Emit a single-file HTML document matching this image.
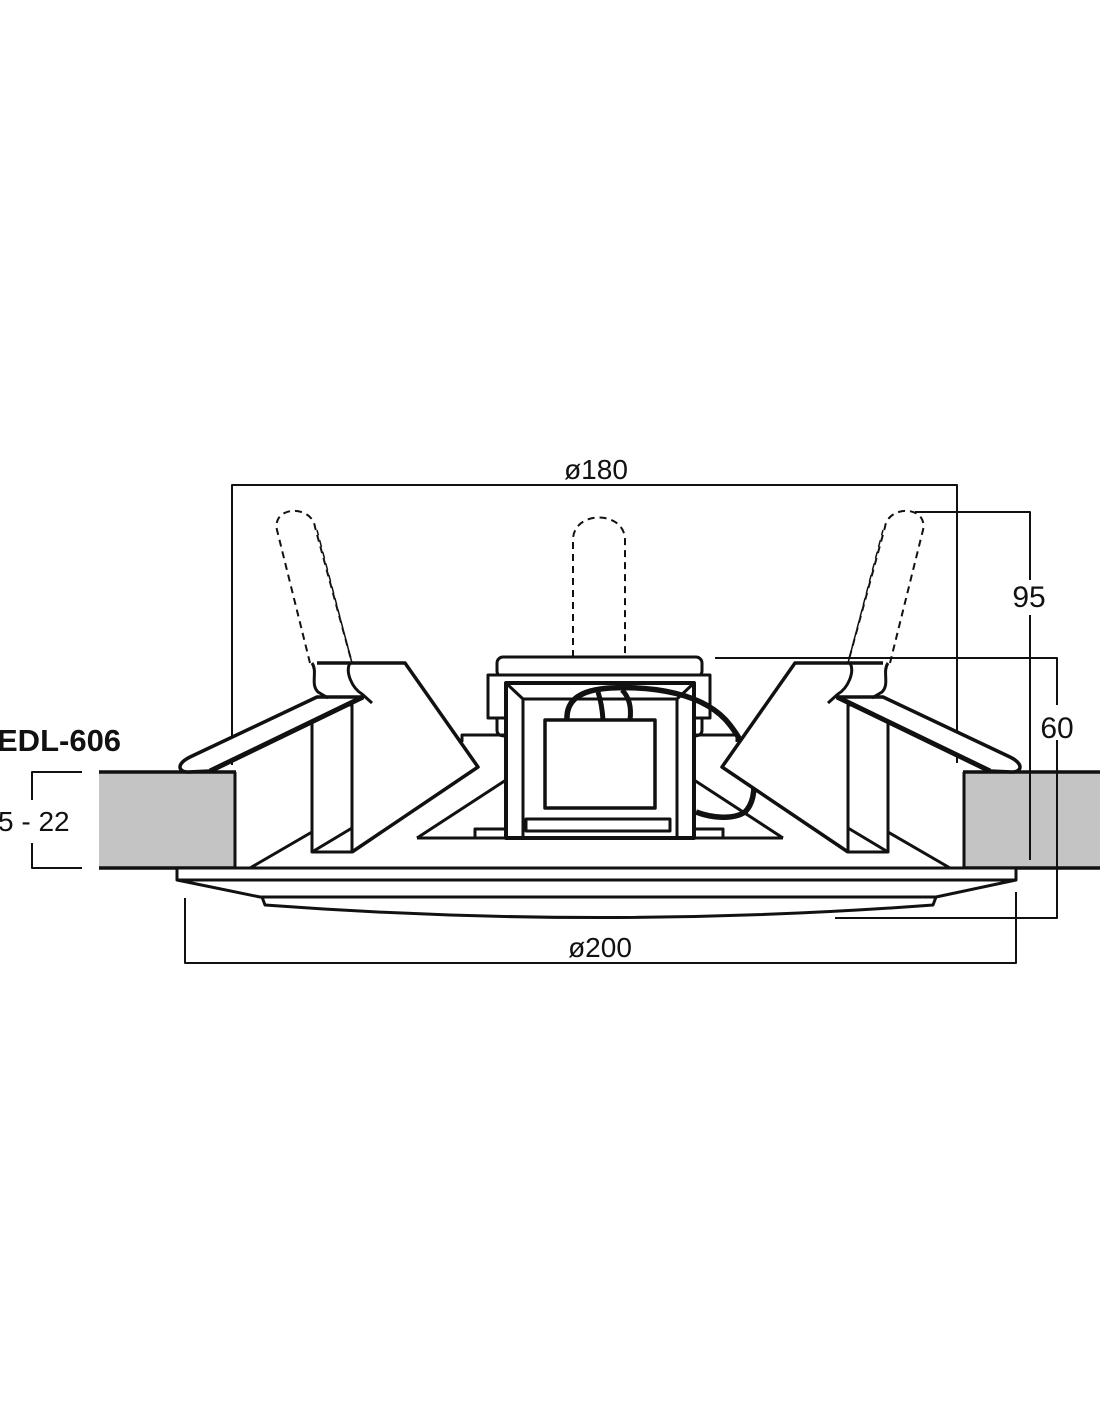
<!DOCTYPE html>
<html><head><meta charset="utf-8"><style>
html,body{margin:0;padding:0;background:#fff;}
svg{display:block;}
text{font-family:"Liberation Sans",sans-serif;fill:#111;}
</style></head><body>
<svg width="1100" height="1422" viewBox="0 0 1100 1422" xmlns="http://www.w3.org/2000/svg">
<g fill="none" stroke="#111" stroke-linejoin="round" stroke-linecap="butt">
<!-- panels -->
<rect x="99" y="772" width="136" height="96" fill="#c4c4c4" stroke="none"/>
<rect x="963" y="772" width="137" height="96" fill="#c4c4c4" stroke="none"/>
<line x1="99" y1="772" x2="236" y2="772" stroke-width="3.5"/>
<line x1="99" y1="868" x2="236" y2="868" stroke-width="3.5"/>
<line x1="235" y1="772" x2="235" y2="868" stroke-width="3"/>
<line x1="963" y1="772" x2="1100" y2="772" stroke-width="3.5"/>
<line x1="963" y1="868" x2="1100" y2="868" stroke-width="3.5"/>
<line x1="964" y1="772" x2="964" y2="868" stroke-width="3"/>

<!-- 5-22 bracket -->
<path d="M82,772 H32 V800 M32,843 V868 H82" stroke-width="2"/>

<!-- dimension lines -->
<path d="M232,765 V485 H957 V763" stroke-width="2"/>
<path d="M915,512 H1030 V580 M1030,615 V860" stroke-width="2"/>
<path d="M715,658 H1057 V705 M1057,740 V918 H835" stroke-width="2"/>
<path d="M185,898 V963 H1016 V892" stroke-width="2"/>

<!-- flange -->
<path d="M177,868 H1016 V880 H177 Z" stroke-width="3" fill="#fff"/>
<path d="M177,880 L260,897 H936 L1016,880" stroke-width="3"/>
<path d="M262,897 L265,905 Q600,930 933,905 L936,897" stroke-width="3"/>

<!-- center unit -->
<path d="M417,838 H783" stroke-width="3"/>
<path d="M417,838 L506,780 M783,838 L694,780" stroke-width="3"/>
<path d="M462,742 V735 H506 M694,735 H737 V742" stroke-width="3"/>
<rect x="497" y="657" width="205" height="20" rx="6" stroke-width="3" fill="#fff"/>
<rect x="488" y="675" width="222" height="43" stroke-width="3" fill="#fff"/>
<path d="M497,718 V730 Q497,736 505,736 M702,718 V730 Q702,736 694,736" stroke-width="3"/>
<rect x="475" y="829" width="248" height="9" stroke-width="3" fill="#fff"/>
<rect x="506" y="683" width="188" height="155" stroke-width="4" fill="#fff"/>
<path d="M523,838 V699 H677 V838" stroke-width="3"/>
<path d="M506,683 L523,699 M694,683 L677,699" stroke-width="3"/>
<rect x="526" y="819" width="144" height="12" stroke-width="3"/>
<rect x="545" y="720" width="110" height="88" stroke-width="3.5" fill="#fff"/>
<!-- wires -->
<path d="M567,720 C566,700 580,690 610,688 C650,686 705,692 730,725 C757,760 760,797 745,812 C733,820 712,818 696,812" stroke-width="5.5"/>
<path d="M603,720 C602,705 600,698 598,692 M630,720 C632,705 628,696 622,690" stroke-width="5"/>

<!-- left clip -->
<g id="clip">
 <path d="M310,663 L277,530 C272,505 312,505 315,527 L352,663" stroke-width="2" stroke-dasharray="7,5"/>
 <path d="M352,663 L317,530" stroke-width="1.5" stroke-dasharray="7,5"/>
 <path d="M250,868 L312,832 M312,852 L352,828" stroke-width="3"/>
 <path d="M317,663 H405 L478,767 L352,852" stroke-width="3.5" fill="#fff"/>
 <rect x="312" y="705" width="40" height="147" stroke-width="3" fill="#fff"/>
 <path d="M312,852 L352,828" stroke-width="3"/>
 <path d="M317,697 L190,757 C176,764 178,772 188,772 L210,771 L363,697 Z" stroke-width="3.5" fill="#fff"/>
 <path d="M210,771 L363,697" stroke-width="5"/>
 <path d="M312,663 C318,672 310,684 318,692 L328,698 M350,663 C345,672 352,688 362,694 L372,703" stroke-width="3"/>
</g>
<use href="#clip" transform="translate(1200,0) scale(-1,1)"/>

<!-- center dashed tongue -->
<path d="M573,657 V540 C573,510 625,510 625,540 V657" stroke-width="2" stroke-dasharray="7,5"/>
</g>

<text x="596" y="479" font-size="28" text-anchor="middle">ø180</text>
<text x="1029" y="607" font-size="30" text-anchor="middle">95</text>
<text x="1057" y="738" font-size="30" text-anchor="middle">60</text>
<text x="600" y="957" font-size="28" text-anchor="middle">ø200</text>
<text x="-3" y="751" font-size="31" font-weight="bold">EDL-606</text>
<text x="-2" y="831" font-size="28">5 - 22</text>
</svg>
</body></html>
